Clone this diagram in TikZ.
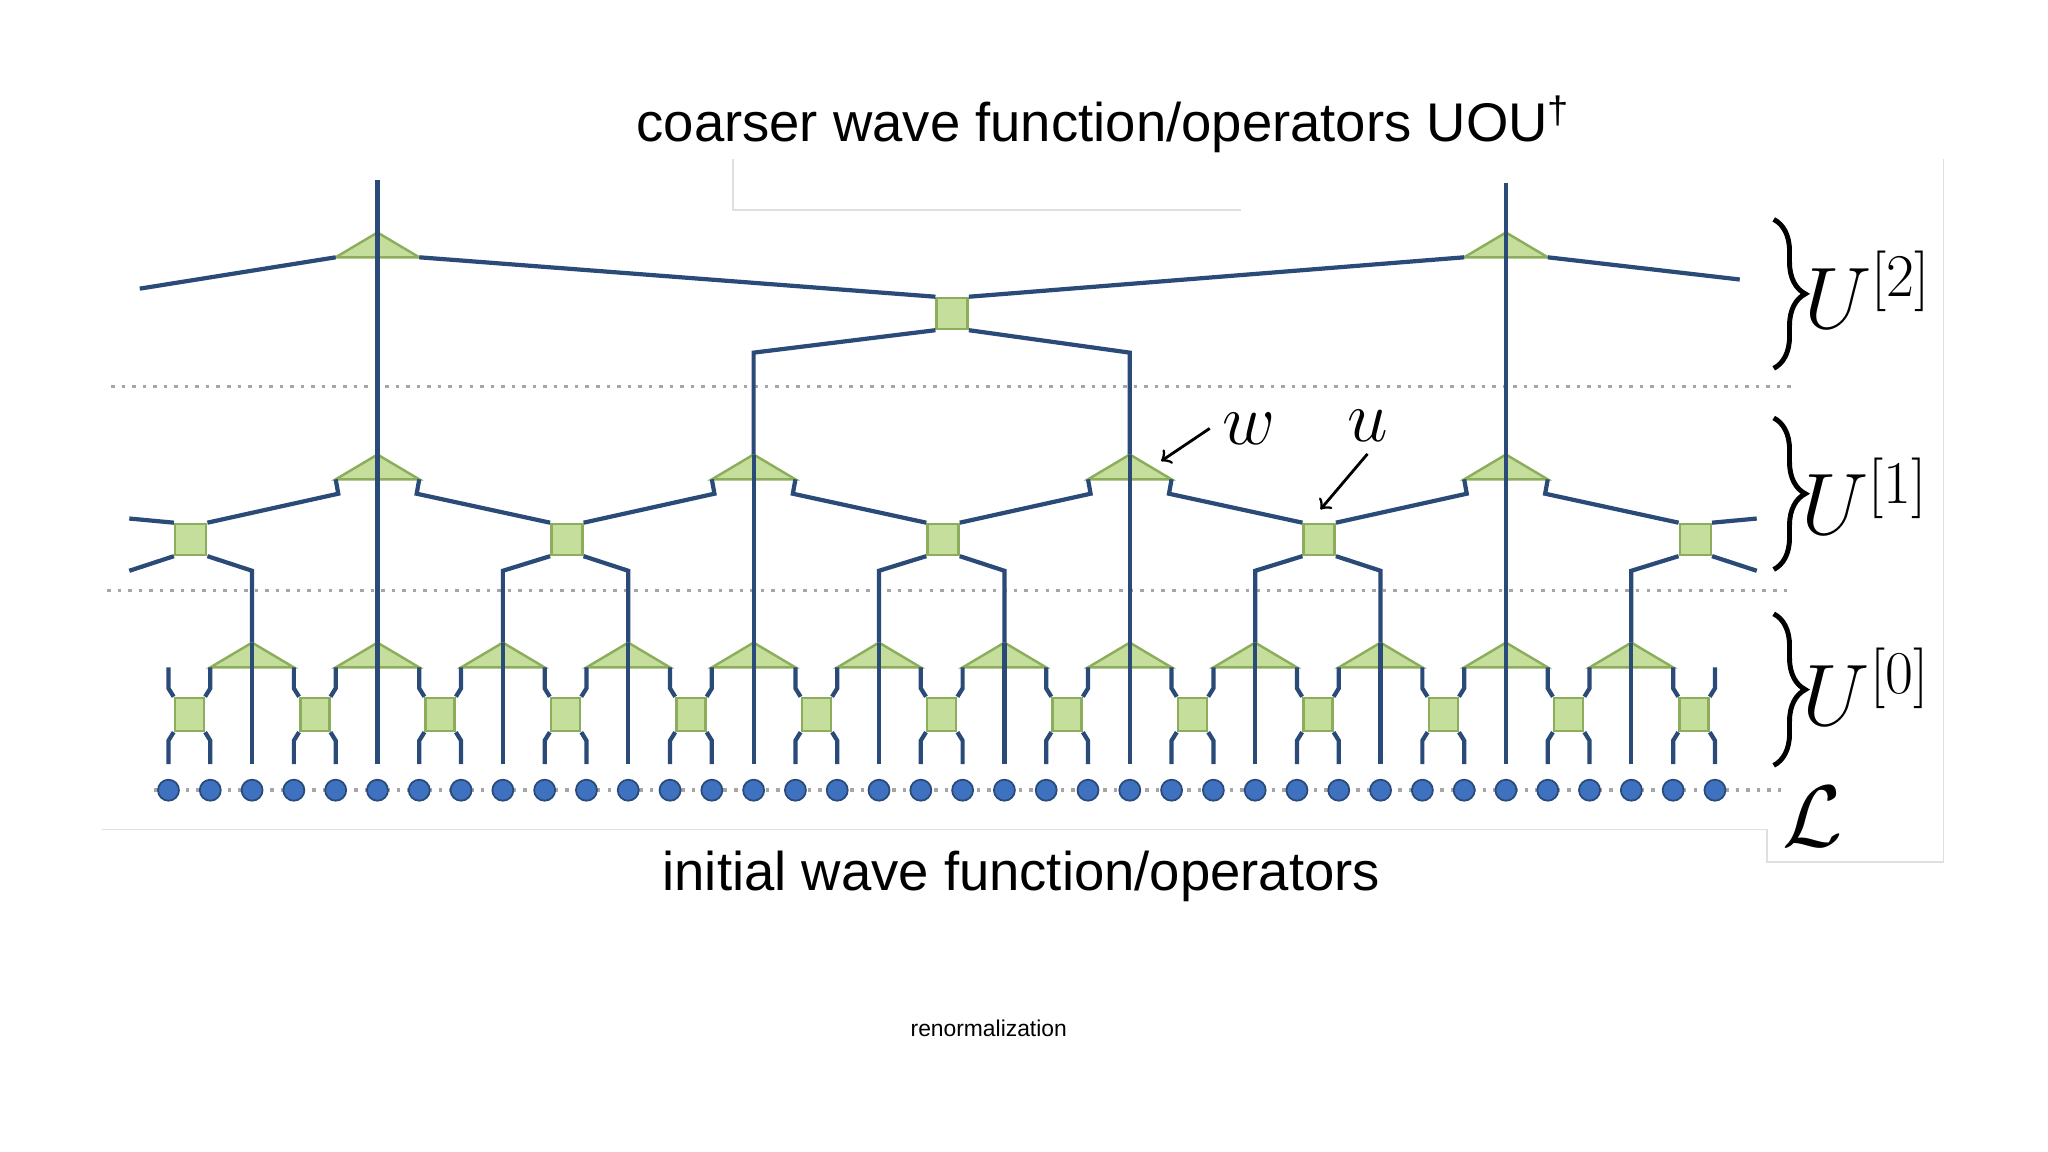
\documentclass[tikz,border=0pt]{standalone}
\usepackage{fontspec}
\newfontfamily\sansfont{Liberation Sans}
\usetikzlibrary{decorations.pathreplacing}
\definecolor{leg}{HTML}{2A4A78}
\definecolor{tensorfill}{HTML}{C6DE9C}
\definecolor{tensoredge}{HTML}{8CAE5C}
\definecolor{site}{HTML}{3E72C0}

\tikzstyle{leg} = [draw=leg, line width=1.2pt]
\tikzstyle{tensor} = [draw=tensoredge, fill=tensorfill, line width=0.7pt]
\tikzstyle{disent} = [tensor, rectangle, inner sep=0pt, minimum width=0.29cm, minimum height=0.33cm]
\tikzstyle{disent-big} = [tensor, rectangle, inner sep=0pt, minimum size=0.31cm]
\tikzstyle{sitenode} = [circle, draw=leg, fill=site, inner sep=0pt, minimum size=0.21cm, line width=0.5pt]
\tikzstyle{layerline} = [draw=gray!70, line width=1pt, dotted]
\tikzstyle{frame} = [draw=gray!25, line width=0.5pt]
\tikzstyle{layerbrace} = [draw=black, line width=1.4pt, decorate, decoration={brace, amplitude=9pt}]

% isometry w: #1 name, #2 apex x, #3 apex y
\newcommand{\isotri}[3]{%
  \coordinate (#1-a) at (#2,#3);
  \coordinate (#1-l) at (#2-32,#3+19);
  \coordinate (#1-r) at (#2+32,#3+19);
  \path [tensor] (#1-a) -- (#1-l) -- (#1-r) -- cycle;
}

\begin{document}
\begin{tikzpicture}[x=0.01306cm, y=-0.01306cm]
	\useasboundingbox (0,0) rectangle (1568,882);

	% frame
	\draw [frame] (561,122) -- (561,161) -- (950,161);
	\draw [frame] (78,635) -- (1353,635) -- (1353,660) -- (1488,660) -- (1488,122);

	% layer separators
	\draw [layerline] (85,296) -- (1373,296);
	\draw [layerline] (82,452) -- (1370,452);
	\draw [layerline] (118,605) -- (1365,605);

	% sites
	\foreach \i in {0,...,37}
		\node [sitenode] (s\i) at (129+32*\i,605) {};

	% level 0
	\foreach \k in {0,...,12} {
		\node [disent] (d\k) at (145+96*\k,547) {};
		\draw [leg] (129+96*\k,585) -- (129+96*\k,567) -- (d\k.south west);
		\draw [leg] (161+96*\k,585) -- (161+96*\k,567) -- (d\k.south east);
	}
	\foreach \j in {0,...,11} {
		\isotri{t\j}{193+96*\j}{492}
	}
	\foreach \k in {0,...,12} {
		\draw [leg] (d\k.north west) -- (129+96*\k,527) -- (129+96*\k,511);
		\draw [leg] (d\k.north east) -- (161+96*\k,527) -- (161+96*\k,511);
	}
	\foreach \j in {0,...,11}
		\draw [leg] (193+96*\j,585) -- (t\j-a);

	% level 1
	\foreach \m in {0,...,3} {
		\isotri{v\m}{289+288*\m}{348}
	}
	\foreach \k in {0,...,4}
		\node [disent-big] (q\k) at (146+288*\k,413) {};
	\foreach \k in {1,...,4}
		\draw [leg] (97+288*\k,492) -- (97+288*\k,437) -- (q\k.south west);
	\foreach \k in {0,...,3}
		\draw [leg] (193+288*\k,492) -- (193+288*\k,437) -- (q\k.south east);
	\draw [leg] (q0.south west) -- (99,437);
	\draw [leg] (q4.south east) -- (1345,437);
	\foreach \k [evaluate=\k as \p using int(\k-1)] in {1,...,4}
		\draw [leg] (q\k.north west) -- (31+288*\k,378) -- (v\p-r);
	\foreach \k in {0,...,3}
		\draw [leg] (q\k.north east) -- (259+288*\k,378) -- (v\k-l);
	\draw [leg] (q0.north west) -- (99,397);
	\draw [leg] (q4.north east) -- (1345,397);
	\foreach \m in {0,...,3}
		\draw [leg] (289+288*\m,492) -- (v\m-a);

	% level 2
	\isotri{T0}{289}{178}
	\isotri{T1}{1153}{178}
	\node [disent-big] (Q) at (729,240) {};
	\draw [leg] (v1-a) -- (577,270) -- (Q.south west);
	\draw [leg] (v2-a) -- (865,270) -- (Q.south east);
	\draw [leg] (T0-r) -- (Q.north west);
	\draw [leg] (T1-l) -- (Q.north east);
	\draw [leg] (T0-l) -- (107,221);
	\draw [leg] (T1-r) -- (1332,214);
	\draw [leg] (v0-a) -- (289,138);
	\draw [leg] (v3-a) -- (1153,140);

	% labels w and u
	\node (wlabel) at (956,328) {\fontsize{22}{24}\selectfont$w$};
	\node (ulabel) at (1047,326) {\fontsize{22}{24}\selectfont$u$};
	\draw [->, line width=0.8pt] (wlabel.west) -- (889,353);
	\draw [->, line width=0.8pt] (ulabel.south) -- (1011,390);

	% braces
	\draw [layerbrace] (1358,168) -- (1358,282);
	\draw [layerbrace] (1358,320) -- (1358,436);
	\draw [layerbrace] (1358,470) -- (1358,586);
	\node (U2) at (1430,222) {\fontsize{26}{28}\selectfont$U^{[2]}$};
	\node (U1) at (1428,380) {\fontsize{26}{28}\selectfont$U^{[1]}$};
	\node (U0) at (1429,526) {\fontsize{26}{28}\selectfont$U^{[0]}$};
	\node (L) at (1388,625) {\fontsize{30}{32}\selectfont$\mathcal{L}$};

	% texts
	\node (top) at (845,95) {\sansfont\fontsize{15.5}{18}\selectfont coarser wave function/operators UOU\textsuperscript{\textdagger}};
	\node (bottom) at (782,671) {\sansfont\fontsize{15.5}{18}\selectfont initial wave function/operators};
	\node (renorm) at (757,787) {\sansfont\fontsize{6.5}{8}\selectfont renormalization};
\end{tikzpicture}
\end{document}
